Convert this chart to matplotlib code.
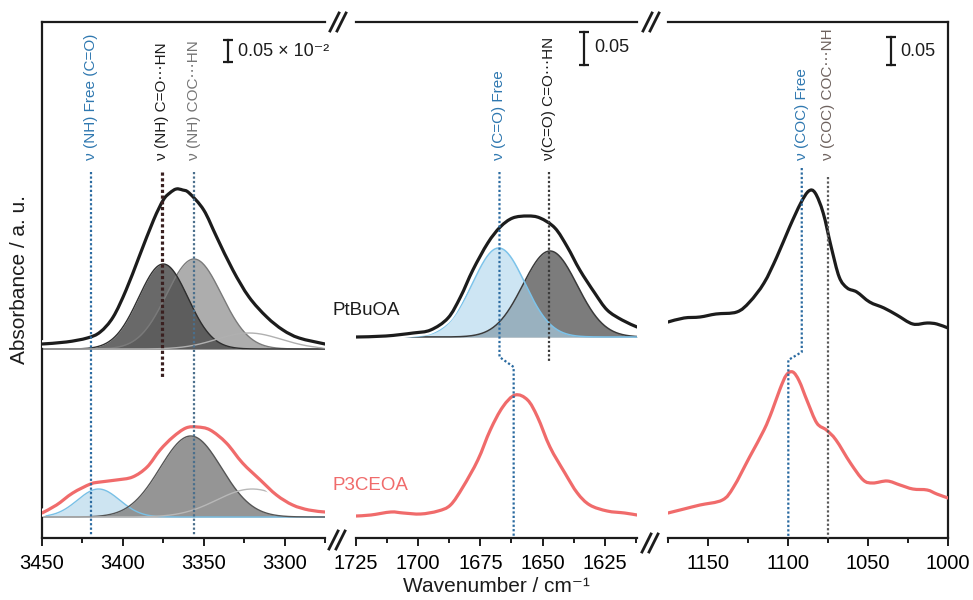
import numpy as np
import matplotlib
matplotlib.use("Agg")
import matplotlib.pyplot as plt
import matplotlib.patheffects as pe
from matplotlib.lines import Line2D
from matplotlib.path import Path
from matplotlib.patches import PathPatch

# ---- measured / envelope spectra (wavenumber in cm-1, absorbance above trace baseline, a.u.)
nh_wn_ptbuoa = [3450, 3435, 3422, 3414, 3406, 3398, 3390, 3381, 3375, 3371, 3367, 3363,
                3359, 3350, 3342, 3332, 3322, 3311, 3301, 3291, 3275]
nh_ptbuoa = [5, 7, 11, 17, 32, 59, 92, 129, 149, 156, 160, 159,
             156, 139, 112, 79, 52, 32, 19, 11, 5]
nh_wn_p3ceoa = [3450, 3441, 3431, 3420, 3414, 3404, 3394, 3385, 3377, 3369, 3361, 3354,
                3346, 3336, 3326, 3315, 3305, 3295, 3285, 3275]
nh_p3ceoa = [4, 12, 24, 33, 35, 37, 40, 50, 67, 80, 89, 90,
             87, 74, 54, 37, 22, 12, 7, 5]

co_wn_ptbuoa = [1725, 1713, 1702, 1695, 1688, 1683, 1678, 1672, 1667, 1662, 1656, 1651,
                1645, 1640, 1635, 1629, 1624, 1618, 1612]
co_ptbuoa = [0, 1, 4, 7, 19, 40, 67, 94, 110, 119, 121, 119,
             109, 90, 67, 44, 27, 17, 10]
co_wn_p3ceoa = [1725, 1719, 1711, 1706, 1699, 1692, 1687, 1682, 1676, 1671, 1666, 1661,
                1656, 1652, 1647, 1641, 1636, 1631, 1624, 1617, 1612]
co_p3ceoa = [1, 2, 5, 4, 3, 6, 12, 30, 57, 87, 110, 122,
             117, 100, 70, 44, 24, 12, 6, 4, 2]

coc_wn_ptbuoa = [1175, 1165, 1155, 1145, 1132, 1124, 1115, 1107, 1099, 1092, 1087, 1083,
                 1078, 1073, 1068, 1063, 1057, 1049, 1040, 1032, 1022, 1013, 1007, 1000]
coc_ptbuoa = [15, 19, 20, 23, 25, 35, 54, 80, 110, 134, 146, 144,
              124, 90, 60, 49, 45, 35, 29, 22, 13, 14, 13, 9]
coc_wn_p3ceoa = [1175, 1165, 1155, 1141, 1134, 1124, 1115, 1110, 1105, 1101, 1097, 1093,
                 1088, 1082, 1076, 1070, 1061, 1053, 1047, 1038, 1030, 1022, 1013, 1007, 1000]
coc_p3ceoa = [4, 8, 12, 17, 30, 60, 87, 106, 128, 142, 145, 136,
              116, 94, 87, 77, 54, 37, 34, 36, 32, 28, 27, 23, 19]

# ---- fitted Gaussian components: centre, height, sigma
nh_fit_ptbuoa = dict(center=[3356, 3375, 3322], height=[90, 85, 16], sigma=[17, 15.2, 20])
nh_fit_p3ceoa = dict(center=[3415, 3358, 3320], height=[28, 81, 28], sigma=[13, 19, 22])
co_fit_ptbuoa = dict(center=[1647, 1667.6], height=[86, 89], sigma=[10.9, 10.5])

# vertical offsets of the two traces (a.u.)
off_nh_top, off_top, off_bottom = 189, 201, 21

# band assignments
nh_marks = [3420, 3376, 3356]
nh_labels = ["ν (NH) Free (C=O)", "ν (NH) C=O⋯HN", "ν (NH) COC⋯HN"]
co_marks = [1667.3, 1647.5]
co_shift = 1661.6
co_labels = ["ν (C=O) Free", "ν(C=O) C=O⋯HN"]
coc_marks = [1091.4, 1074.8]
coc_shift = 1099.8
coc_labels = ["ν (COC) Free", "ν (COC) COC⋯NH"]

plt.rcParams['font.family'] = ['Liberation Sans', 'DejaVu Sans']

W, H = 973, 600
fig = plt.figure(figsize=(W / 100, H / 100), dpi=100)
fx = lambda px: px / W
fy = lambda py: 1 - py / H

hgt = 516 / H
ax1 = fig.add_axes([42 / W, (H - 538) / H, 283 / W, hgt])
ax2 = fig.add_axes([356 / W, (H - 538) / H, 281 / W, hgt])
ax3 = fig.add_axes([668 / W, (H - 538) / H, 280 / W, hgt])

BLACK = "#1c1c1c"
RED = "#f06b6b"
BLUE_T = "#2f78b0"
halo = [pe.Stroke(linewidth=5.5, foreground="white", capstyle='round'), pe.Normal()]


def gauss(x, c, h, s):
    return h * np.exp(-(x - c) ** 2 / (2 * s ** 2))


def spectrum(ax, wn, a, off, color, with_halo=True):
    # smooth Catmull-Rom style Bezier through the read points
    p = np.column_stack([wn, np.asarray(a, float) + off])
    q = np.vstack([p[0], p, p[-1]])
    verts, codes = [p[0]], [Path.MOVETO]
    for i in range(1, len(q) - 2):
        c1 = q[i] + (q[i + 1] - q[i - 1]) / 6
        c2 = q[i + 1] - (q[i + 2] - q[i]) / 6
        verts += [c1, c2, q[i + 1]]
        codes += [Path.CURVE4] * 3
    patch = PathPatch(Path(verts, codes), fill=False, edgecolor=color, lw=2.3,
                      capstyle='round', joinstyle='round', zorder=5)
    if with_halo:
        patch.set_path_effects(halo)
    ax.add_patch(patch)


for ax in (ax1, ax2, ax3):
    ax.set_ylim(0, 516)
    ax.set_yticks([])
    for s in ax.spines.values():
        s.set_linewidth(1.6)
        s.set_color(BLACK)
    ax.tick_params(axis='x', which='major', direction='out', length=5.5, width=1.4,
                   labelsize=14.5, pad=6, color=BLACK)
    ax.tick_params(axis='x', which='minor', direction='out', length=3.5, width=1.4, color=BLACK)
ax1.spines['right'].set_visible(False)
ax2.spines['left'].set_visible(False)
ax2.spines['right'].set_visible(False)
ax3.spines['left'].set_visible(False)

ax1.set_xlim(3450, 3275)
ax1.set_xticks([3450, 3400, 3350, 3300])
ax1.set_xticks([3425, 3375, 3325, 3275], minor=True)
ax2.set_xlim(1725, 1612)
ax2.set_xticks([1725, 1700, 1675, 1650, 1625])
ax2.set_xticks([1712.5, 1687.5, 1662.5, 1637.5, 1612.5], minor=True)
ax3.set_xlim(1175, 1000)
ax3.set_xticks([1150, 1100, 1050, 1000])
ax3.set_xticks([1175, 1125, 1075, 1025], minor=True)

# ---- NH region: fitted components
x = np.linspace(3450, 3275, 400)
fills = [("#a9a9a9", "#7a7a7a", 0.95), ("#4f4f4f", "#2e2e2e", 0.85), (None, "#b0b0b0", 1)]
for c, h, s, (fc, ec, a) in zip(nh_fit_ptbuoa['center'], nh_fit_ptbuoa['height'],
                                 nh_fit_ptbuoa['sigma'], fills):
    g = gauss(x, c, h, s) + off_nh_top
    if fc:
        ax1.fill_between(x, off_nh_top, g, color=fc, alpha=a, lw=0)
    ax1.plot(x, g, color=ec, lw=1.0)
spectrum(ax1, nh_wn_ptbuoa, nh_ptbuoa, off_nh_top, BLACK)

fills_b = [("#c8e1f0", "#78c0e6", 0.9), ("#8a8a8a", "#555555", 0.9), (None, "#b8b8b8", 1)]
for c, h, s, (fc, ec, a) in zip(nh_fit_p3ceoa['center'], nh_fit_p3ceoa['height'],
                                 nh_fit_p3ceoa['sigma'], fills_b):
    g = gauss(x, c, h, s) + off_bottom
    if fc:
        ax1.fill_between(x, off_bottom, g, color=fc, alpha=a, lw=0)
    ax1.plot(x, g, color=ec, lw=1.0)
spectrum(ax1, nh_wn_p3ceoa, nh_p3ceoa, off_bottom, RED)

# ---- C=O region
x = np.linspace(1725, 1612, 400)
comp = [("#6e6e6e", "#3a3a3a", 0.9), ("#add5ec", "#7cc3ea", 0.6)]
lines = []
for c, h, s, (fc, ec, a) in zip(co_fit_ptbuoa['center'], co_fit_ptbuoa['height'],
                                 co_fit_ptbuoa['sigma'], comp):
    g = gauss(x, c, h, s) + off_top
    ax2.fill_between(x, off_top, g, color=fc, alpha=a, lw=0)
    lines.append((g, ec))
for g, ec in lines:
    ax2.plot(x, g, color=ec, lw=1.1)
spectrum(ax2, co_wn_ptbuoa, co_ptbuoa, off_top, BLACK)
spectrum(ax2, co_wn_p3ceoa, co_p3ceoa, off_bottom, RED, with_halo=False)

# ---- COC region
spectrum(ax3, coc_wn_ptbuoa, coc_ptbuoa, off_top, BLACK, with_halo=False)
spectrum(ax3, coc_wn_p3ceoa, coc_p3ceoa, off_bottom, RED, with_halo=False)

# ---- band assignment lines and labels
dot = dict(ls=(0, (1, 1)), lw=1.6, zorder=6)
lab_y = 378
ax1.plot([nh_marks[0]] * 2, [366, 3], color="#2a6aa0", **dot)
ax1.plot([nh_marks[1]] * 2, [366, 161], color="#3a2020", ls=(0, (1, 0.8)), lw=2.3, zorder=6)
ax1.plot([nh_marks[2]] * 2, [366, 3], color="#4a6f8c", **dot)
for xm, t, col in zip(nh_marks, nh_labels, [BLUE_T, BLACK, "#757575"]):
    ax1.text(xm, lab_y, t, rotation=90, ha='center', va='bottom', fontsize=11, color=col)

ax2.plot([co_marks[0], co_marks[0], co_shift, co_shift], [366, 181, 171, 0],
         color="#2a6aa0", **dot)
ax2.plot([co_marks[1]] * 2, [366, 175], color="#3a3a3a", **dot)
for xm, t, col in zip(co_marks, co_labels, [BLUE_T, BLACK]):
    ax2.text(xm, lab_y, t, rotation=90, ha='center', va='bottom', fontsize=11, color=col)

ax3.plot([coc_marks[0], coc_marks[0], coc_shift, coc_shift], [370, 186, 178, 0],
         color="#2a6aa0", **dot)
ax3.plot([coc_marks[1]] * 2, [361, 0], color="#5a5a5a", **dot)
for xm, t, col in zip(coc_marks, coc_labels, [BLUE_T, "#6e625e"]):
    ax3.text(xm, lab_y, t, rotation=90, ha='center', va='bottom', fontsize=11, color=col)

# ---- scale bars
bar = dict(color=BLACK, lw=1.6, marker='_', ms=7, mew=1.6)
ax1.plot([3335, 3335], [476, 498], **bar)
ax1.text(3329, 487, "0.05 × 10⁻²", fontsize=13, va='center', ha='left', color=BLACK)
ax2.plot([1633.3, 1633.3], [473, 506], **bar)
ax2.text(1629, 490, "0.05", fontsize=13, va='center', ha='left', color=BLACK)
ax3.plot([1035.8, 1035.8], [473, 501], **bar)
ax3.text(1030, 487, "0.05", fontsize=13, va='center', ha='left', color=BLACK)

# ---- sample names and axis titles
fig.text(fx(333), fy(310), "PtBuOA", fontsize=13.5, color=BLACK, va='center', ha='left')
fig.text(fx(333), fy(486), "P3CEOA", fontsize=13.5, color=RED, va='center', ha='left')
fig.text(fx(496), fy(586), "Wavenumber / cm⁻¹", fontsize=15, ha='center', va='center',
         color=BLACK)
fig.text(fx(20), fy(280), "Absorbance / a. u.", fontsize=15, rotation=90,
         ha='center', va='center', color=BLACK)

# ---- axis break marks
for cx, cy in [(338, 22), (651, 22), (337, 540), (650, 543)]:
    for dx in (-3.5, 3.5):
        fig.add_artist(Line2D([fx(cx + dx - 4.5), fx(cx + dx + 4.5)],
                              [fy(cy + 9), fy(cy - 9)], color=BLACK, lw=2.0))

fig.savefig("out.png", dpi=100)
